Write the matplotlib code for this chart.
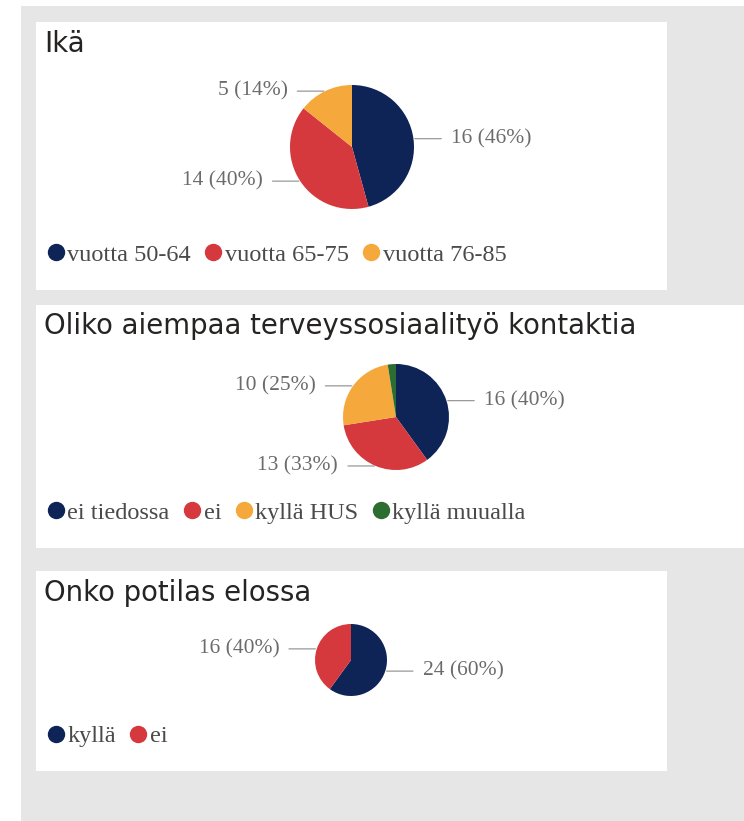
import matplotlib
matplotlib.use('Agg')
import matplotlib.pyplot as plt
import numpy as np
from matplotlib.patches import Rectangle
from matplotlib.lines import Line2D

# chart data
age_labels = ["vuotta 50-64", "vuotta 65-75", "vuotta 76-85"]
age_values = [16, 14, 5]

contact_labels = ["ei tiedossa", "ei", "kyllä HUS", "kyllä muualla"]
contact_values = [16, 13, 10, 1]

alive_labels = ["kyllä", "ei"]
alive_values = [24, 16]

titles = ["Ikä", "Oliko aiempaa terveyssosiaalityö kontaktia", "Onko potilas elossa"]

NAVY = "#0e2457"
RED = "#d5393d"
ORANGE = "#f5a83b"
GREEN = "#2c6d32"
palette = [NAVY, RED, ORANGE, GREEN]

W, H = 744, 821
fig = plt.figure(figsize=(W / 100, H / 100), dpi=100)
fig.patch.set_facecolor("white")


def box(x0, y0, x1, y1):
    # pixel box (top-left origin) -> figure fraction rect
    return [x0 / W, 1 - y1 / H, (x1 - x0) / W, (y1 - y0) / H]


def add_rect(x0, y0, x1, y1, color):
    l, b, w, h = box(x0, y0, x1, y1)
    fig.add_artist(Rectangle((l, b), w, h, transform=fig.transFigure,
                             facecolor=color, edgecolor="none", zorder=0))


# grey canvas and white panels
add_rect(21, 6, 744, 821, "#e6e6e6")
panels = [(36, 22, 667, 290), (36, 305, 744, 548), (36, 571, 667, 771)]
for p in panels:
    add_rect(*p, "white")

title_y = [44, 326, 593]
for t, ty in zip(titles, title_y):
    fig.text(44 / W, 1 - ty / H, t, fontsize=19.8, color="#252423",
             family="DejaVu Sans", va="center", ha="left")

pies = [
    (age_values, age_labels, 352, 147, 62, 255),
    (contact_values, contact_labels, 396, 417, 53, 513),
    (alive_values, alive_labels, 351, 660, 36, 736),
]

for values, names, cx, cy, r, ly in pies:
    ax = fig.add_axes(box(cx - r, cy - r, cx + r, cy + r))
    cols = palette[:len(values)]
    wedges, _ = ax.pie(values, colors=cols, startangle=90, counterclock=False,
                       radius=1.0, wedgeprops=dict(linewidth=0))
    ax.set_xlim(-1, 1)
    ax.set_ylim(-1, 1)
    ax.set_aspect("equal")
    ax.axis("off")

    total = sum(values)
    for w, v in zip(wedges, values):
        if v / total < 0.05:
            continue
        ang = np.deg2rad((w.theta1 + w.theta2) / 2)
        x, y = np.cos(ang), np.sin(ang)
        side = 1 if x >= 0 else -1
        txt = "%d (%d%%)" % (v, int(100 * v / total + 0.5))
        ax.annotate(txt, xy=(x, y), xytext=(side * 27, 0),
                    textcoords="offset points", ha="left" if side > 0 else "right",
                    va="center", fontsize=15.5, color="#6b6b6b",
                    family="Liberation Serif", annotation_clip=False,
                    arrowprops=dict(arrowstyle="-", color="#999999", lw=0.9,
                                    shrinkA=5, shrinkB=1))

    handles = [Line2D([0], [0], marker="o", linestyle="none", markersize=11.5,
                      markerfacecolor=c, markeredgecolor=c) for c in cols]
    fig.legend(handles, names, loc="center left",
               bbox_to_anchor=(49 / W, 1 - ly / H), ncol=len(names),
               frameon=False, handlelength=0.55, handletextpad=0.2,
               columnspacing=0.65, borderpad=0, borderaxespad=0,
               prop=dict(family="Liberation Serif", size=17.5),
               labelcolor="#4a4a4a")

fig.savefig("out.png", dpi=100)
